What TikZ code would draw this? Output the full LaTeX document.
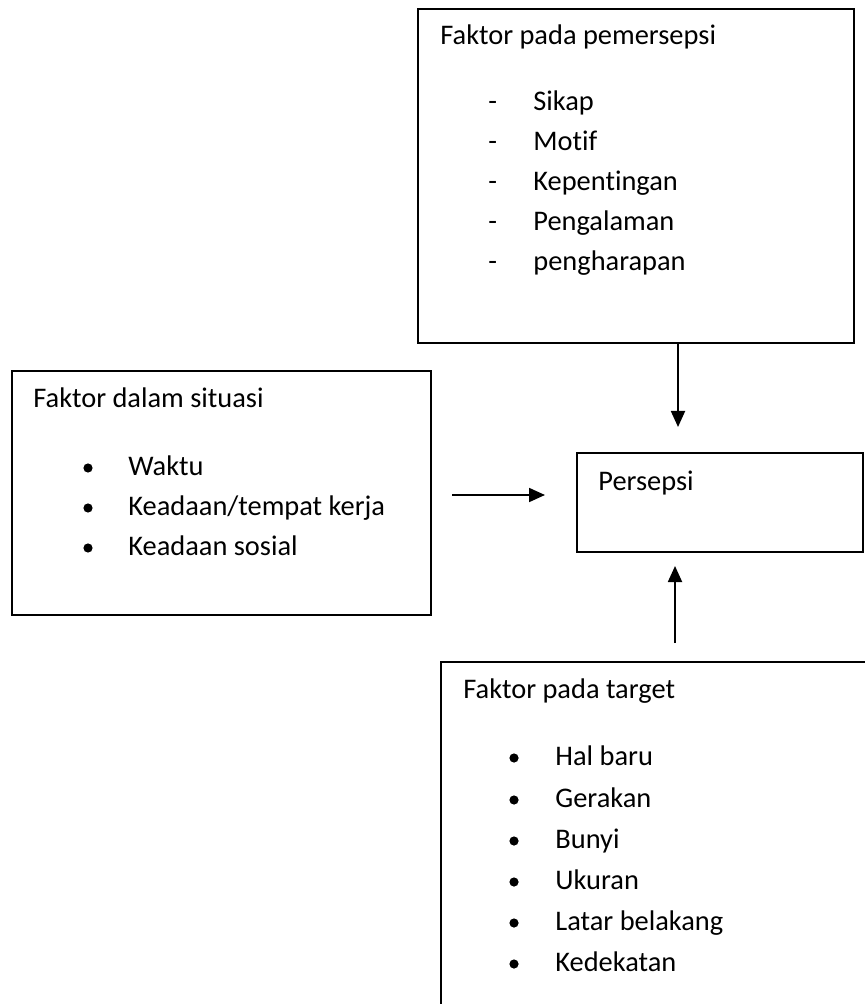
\documentclass[tikz,border=0pt]{standalone}
\usepackage{fontspec}
\setmainfont{Carlito}[RawFeature={-liga}]
\usetikzlibrary{arrows.meta,fit}
\begin{document}
\begin{tikzpicture}[x=0.5pt,y=-0.5pt,
  box/.style={draw=black, line width=1.1pt, inner sep=0pt},
  txt/.style={anchor=base west, inner sep=0pt, font=\fontsize{14.2}{17}\selectfont, text=black},
  dot/.style={circle, fill=black, inner sep=0pt, minimum size=4.6pt},
  arr/.style={line width=0.9pt, -{Triangle[length=8pt,width=7pt]}}]
\useasboundingbox (0,0) rectangle (864,1004);
\fill[white] (0,0) rectangle (864,1004);

% boxes
\node[box, fit={(418,9) (854,343)}] (pem) {};
\node[box, fit={(12,371) (431,615)}] (sit) {};
\node[box, fit={(577,453) (863,552)}] (per) {};
\node[box, fit={(441,662) (880,1015)}] (tar) {};

% top box text
\node[txt] (pemT) at (440,45) {Faktor pada pemersepsi};
\foreach \y/\t [count=\i] in {111/Sikap,151/Motif,191/Kepentingan,231/Pengalaman,271/pengharapan}{
  \node[txt] (pemD\i) at (488,\y) {-};
  \node[txt] (pemI\i) at (533,\y) {\t};
}

% left box text
\node[txt] (sitT) at (33,408) {Faktor dalam situasi};
\foreach \y/\t [count=\i] in {468/{Waktu},508/{Keadaan/tempat kerja},548/{Keadaan sosial}}{
  \node[dot] (sitB\i) at (88,\y) {};
  \node[txt] (sitI\i) at (128,\y+7) {\t};
}

% persepsi
\node[txt] (perT) at (598,490) {Persepsi};

% bottom box text
\node[txt] (tarT) at (463,698) {Faktor pada target};
\foreach \y/\t [count=\i] in {758/Hal baru,800/Gerakan,841/Bunyi,882/Ukuran,923/Latar belakang,964/Kedekatan}{
  \node[dot] (tarB\i) at (514,\y) {};
  \node[txt] (tarI\i) at (555,\y+7) {\t};
}

% connector ends
\coordinate (downTip) at (678,427);
\coordinate (hStart) at (452,495);
\coordinate (hTip) at (545,495);
\coordinate (upStart) at (675,643);
\coordinate (upTip) at (675,566);

\draw[arr] (pem.south -| downTip) -- (downTip);
\draw[arr] (hStart) -- (hTip);
\draw[arr] (upStart) -- (upTip);
\end{tikzpicture}
\end{document}
